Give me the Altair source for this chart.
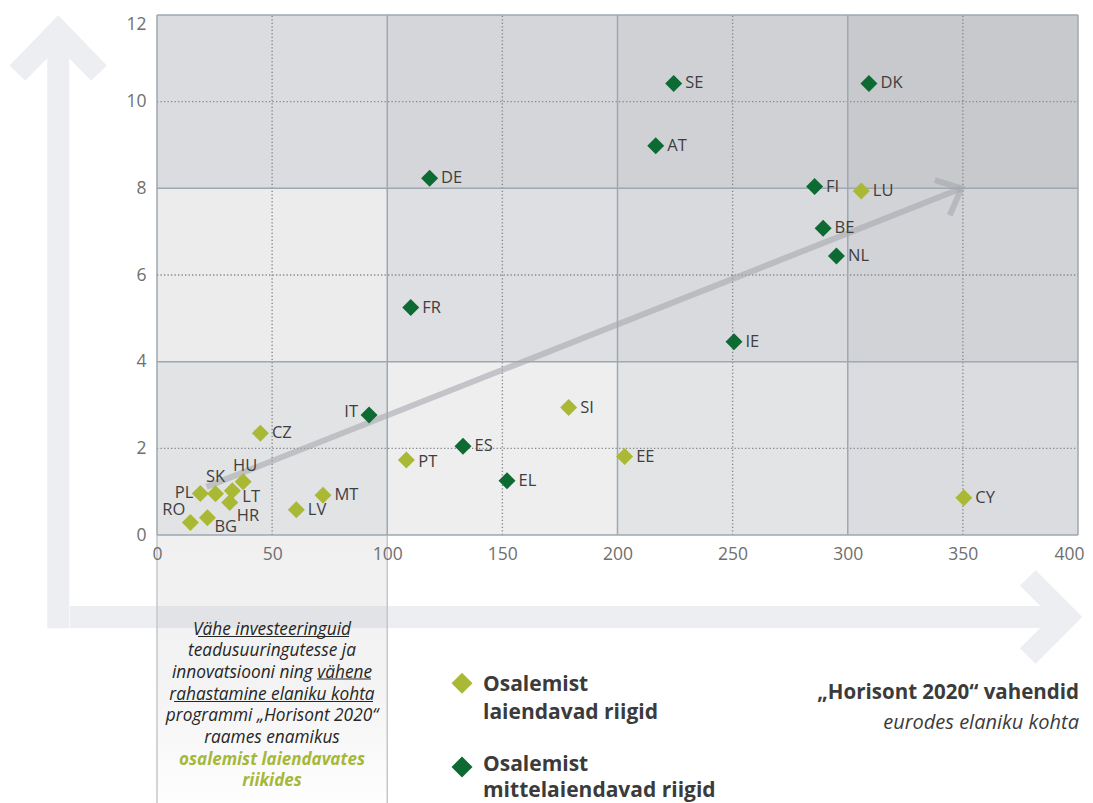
import altair as alt
import pandas as pd

FONT = "Open Sans"

# ---------------- data ----------------
light_countries = ["CZ", "HU", "SK", "PL", "LT", "HR", "RO", "BG", "LV", "MT", "PT", "SI", "EE", "CY", "LU"]
light_x = [44.9, 37.4, 25.4, 18.8, 32.7, 31.6, 14.5, 21.9, 60.5, 72.1, 108.3, 178.8, 203.1, 350.4, 305.9]
light_y = [2.35, 1.23, 0.95, 0.96, 1.02, 0.75, 0.29, 0.40, 0.58, 0.92, 1.73, 2.94, 1.81, 0.86, 7.94]

dark_countries = ["IT", "ES", "EL", "FR", "DE", "SE", "DK", "AT", "FI", "BE", "NL", "IE"]
dark_x = [92.1, 132.9, 152.0, 110.2, 118.4, 224.4, 309.2, 216.6, 285.6, 289.3, 295.1, 250.6]
dark_y = [2.77, 2.05, 1.25, 5.25, 8.23, 10.42, 10.42, 8.98, 8.04, 7.08, 6.44, 4.46]

groups = ["Osalemist laiendavad riigid", "Osalemist mittelaiendavad riigid"]
group_colors = ["#aab935", "#0d6a33"]

x_ticks = [0, 50, 100, 150, 200, 250, 300, 350, 400]
y_ticks = [0, 2, 4, 6, 8, 10, 12]

# quadrant cells
x_edges = [0, 100, 200, 300, 400]
y_edges = [0, 4, 8, 12]
cell_shades = [
    ["#e2e3e5", "#eeeeef", "#e3e4e6", "#dbdcdf"],  # 0-4
    ["#ececed", "#dedfe2", "#d9dadd", "#d2d3d7"],  # 4-8
    ["#dbdcdf", "#d5d6da", "#d0d1d5", "#c8c9cd"],  # 8-12
]

# trend arrow (data units)
trend_x = [21.5, 349.4]
trend_y = [1.11, 8.0]
head_x = [337.8, 349.4, 344.3]
head_y = [8.19, 8.0, 7.38]

annotation_lines = [
    "Vähe investeeringuid",
    "teadusuuringutesse ja",
    "innovatsiooni ning vähene",
    "rahastamine elaniku kohta",
    "programmi „Horisont 2020“",
    "raames enamikus",
]
annotation_green = ["osalemist laiendavates", "riikides"]

axis_title_1 = "„Horisont 2020“ vahendid"
axis_title_2 = "eurodes elaniku kohta"

# label placement: country -> (dx, dy, align)
label_place = {
    "IT": (-11, -3, "right"),
    "PL": (-7, 0, "right"),
    "SK": (0, -17, "center"),
    "HU": (2, -16, "center"),
    "LT": (10, 6, "left"),
    "HR": (7, 13, "left"),
    "RO": (-5, -12, "right"),
    "BG": (7, 9, "left"),
    "PT": (12, 2, "left"),
}
default_place = (11.5, 0, "left")

# ---------------- frames ----------------
pts = pd.DataFrame({
    "country": light_countries + dark_countries,
    "x": light_x + dark_x,
    "y": light_y + dark_y,
    "group": [groups[0]] * len(light_countries) + [groups[1]] * len(dark_countries),
})

cells = []
for r in range(len(y_edges) - 1):
    for c in range(len(x_edges) - 1):
        cells.append({"x0": x_edges[c], "x1": x_edges[c + 1],
                      "y0": y_edges[r], "y1": y_edges[r + 1], "fill": cell_shades[r][c]})
cells = pd.DataFrame(cells)

xs = alt.Scale(domain=[0, 400], nice=False, zero=False)
ys = alt.Scale(domain=[0, 12], nice=False, zero=False)
xaxis = alt.Axis(values=x_ticks, grid=False, domain=False, ticks=False, tickSize=0,
                 labelPadding=10, labelFlush=False, labelFont=FONT, labelFontSize=17.5,
                 labelAlign={"condition": {"test": "datum.value == 400", "value": "right"},
                             "value": "center"},
                 labelOffset={"condition": {"test": "datum.value == 400", "value": 6},
                              "value": 0},
                 labelColor="#6f6f6f", title=None, zindex=1)
yaxis = alt.Axis(values=y_ticks, grid=False, domain=False, ticks=False, tickSize=0,
                 labelPadding=11, labelFont=FONT, labelFontSize=17.5,
                 labelBaseline={"condition": {"test": "datum.value == 12", "value": "top"},
                                "value": "middle"},
                 labelColor="#6f6f6f", title=None, zindex=1)


def X(f):
    return alt.X(f, type="quantitative", scale=xs, axis=xaxis)


def Y(f):
    return alt.Y(f, type="quantitative", scale=ys, axis=yaxis)


layers = []

# quadrant cells
layers.append(alt.Chart(cells).mark_rect().encode(
    x=X("x0"), x2=alt.X2("x1"), y=Y("y0"), y2=alt.Y2("y1"),
    color=alt.Color("fill:N", scale=None)))

# annotation box under the low-low cell
box = pd.DataFrame({"x0": [0], "x1": [100], "y0": [-6.8], "y1": [0]})
layers.append(alt.Chart(box).mark_rect(
    color=alt.LinearGradient(gradient="linear", x1=0, x2=0, y1=0, y2=1,
                             stops=[alt.GradientStop(color="#f0f0f0", offset=0),
                                    alt.GradientStop(color="#f3f3f3", offset=0.5),
                                    alt.GradientStop(color="#ffffff", offset=0.95),
                                    alt.GradientStop(color="#f6f6f6", offset=1)])
).encode(x=X("x0"), x2=alt.X2("x1"), y=Y("y0"), y2=alt.Y2("y1")))

# big background L-arrows (decoration)
band = pd.DataFrame([
    {"seg": "v", "ord": 0, "x": -42.9, "y": -2.15},
    {"seg": "v", "ord": 1, "x": -42.9, "y": 11.42},
    {"seg": "vh", "ord": 0, "x": -60.6, "y": 10.66},
    {"seg": "vh", "ord": 1, "x": -42.9, "y": 11.63},
    {"seg": "vh", "ord": 2, "x": -25.2, "y": 10.66},
    {"seg": "h", "ord": 0, "x": -37.9, "y": -1.89},
    {"seg": "h", "ord": 1, "x": 392.1, "y": -1.89},
    {"seg": "hh", "ord": 0, "x": 378.2, "y": -0.99},
    {"seg": "hh", "ord": 1, "x": 395.1, "y": -1.89},
    {"seg": "hh", "ord": 2, "x": 378.2, "y": -2.79},
])
layers.append(alt.Chart(band).mark_line(
    color="#eceef1", strokeWidth=22, strokeJoin="miter", strokeCap="butt"
).encode(x=X("x"), y=Y("y"), detail="seg:N", order="ord:Q"))
band_box = pd.DataFrame({"x": [0, 100], "y": [-1.89, -1.89]})
layers.append(alt.Chart(band_box).mark_line(
    color="#e1e3e6", strokeWidth=22, strokeCap="butt"
).encode(x=X("x"), y=Y("y")))

# box side borders
box_edges = pd.DataFrame({"x": [0, 100], "y0": [-6.8, -6.8], "y1": [0, 0]})
layers.append(alt.Chart(box_edges).mark_rule(color="#c3c8cd", strokeWidth=1.5).encode(
    x=X("x"), y=Y("y0"), y2=alt.Y2("y1")))

# dotted grid
vgrid = pd.DataFrame({"x": [t for t in x_ticks if t not in x_edges], "y0": 0, "y1": 12})
hgrid = pd.DataFrame({"y": [t for t in y_ticks if t not in y_edges], "x0": 0, "x1": 400})
layers.append(alt.Chart(vgrid).mark_rule(color="#85878a", strokeWidth=1.4, strokeDash=[1.3, 2.2]).encode(
    x=X("x"), y=Y("y0"), y2=alt.Y2("y1")))
layers.append(alt.Chart(hgrid).mark_rule(color="#85878a", strokeWidth=1.4, strokeDash=[1.3, 2.2]).encode(
    y=Y("y"), x=X("x0"), x2=alt.X2("x1")))

# solid cell borders
vb = pd.DataFrame({"x": x_edges, "y0": 0, "y1": 12})
hb = pd.DataFrame({"y": y_edges, "x0": 0, "x1": 400})
layers.append(alt.Chart(vb).mark_rule(color="#9ea8b0", strokeWidth=1.5).encode(
    x=X("x"), y=Y("y0"), y2=alt.Y2("y1")))
layers.append(alt.Chart(hb).mark_rule(color="#9ea8b0", strokeWidth=1.5).encode(
    y=Y("y"), x=X("x0"), x2=alt.X2("x1")))

# trend arrow
trend = pd.DataFrame({"seg": ["s"] * 2 + ["h"] * 3, "ord": [0, 1, 0, 1, 2],
                      "x": trend_x + head_x, "y": trend_y + head_y})
layers.append(alt.Chart(trend).mark_line(
    color="#a7a9ad", opacity=0.6, strokeWidth=6, strokeJoin="miter", strokeCap="butt"
).encode(x=X("x"), y=Y("y"), detail="seg:N", order="ord:Q"))

# points
layers.append(alt.Chart(pts).mark_point(shape="diamond", filled=True, size=289, opacity=1).encode(
    x=X("x"), y=Y("y"),
    color=alt.Color("group:N", scale=alt.Scale(domain=groups, range=group_colors), legend=None)))

# labels
placements = {}
for c in pts["country"]:
    placements.setdefault(label_place.get(c, default_place), []).append(c)
for (dx, dy, align), members in placements.items():
    layers.append(alt.Chart(pts).transform_filter(
        alt.FieldOneOfPredicate(field="country", oneOf=members)
    ).mark_text(font=FONT, fontSize=16.5, color="#3f3f3f", dx=dx, dy=dy, align=align,
                baseline="middle").encode(x=X("x"), y=Y("y"), text="country:N"))

# annotation text in the box (pixel positions relative to plot origin)
one = pd.DataFrame({"k": [0]})
ANN_X = 115
ann_y0 = 614.5
ann_step = 21.7
for i, line in enumerate(annotation_lines):
    layers.append(alt.Chart(pd.DataFrame({"t": [line]})).mark_text(
        font=FONT, fontSize=17.3, fontStyle="italic", color="#262626", align="center", baseline="middle"
    ).encode(x=alt.value(ANN_X), y=alt.value(ann_y0 + ann_step * i), text="t:N"))
for j, line in enumerate(annotation_green):
    i = len(annotation_lines) + j
    layers.append(alt.Chart(pd.DataFrame({"t": [line]})).mark_text(
        font=FONT, fontSize=17, fontStyle="italic", fontWeight="bold", color="#a5b83a",
        align="center", baseline="middle"
    ).encode(x=alt.value(ANN_X), y=alt.value(ann_y0 + ann_step * i), text="t:N"))

# underlines
underlines = [(41, 192, 621.5), (160, 214, 664), (17, 216, 686.5)]
for (u0, u1, uy) in underlines:
    layers.append(alt.Chart(one).mark_rule(color="#262626", strokeWidth=1.2).encode(
        x=alt.value(u0), x2=alt.value(u1), y=alt.value(uy)))

# legend (manual)
leg_sym = [(305, 668.3, group_colors[0]), (305, 752, group_colors[1])]
for (lx, ly, col) in leg_sym:
    layers.append(alt.Chart(one).mark_point(shape="diamond", filled=True, size=441, color=col, opacity=1).encode(
        x=alt.value(lx), y=alt.value(ly)))
leg_text = [("Osalemist", 670), ("laiendavad  riigid", 698.3), ("Osalemist", 749.5), ("mittelaiendavad  riigid", 775.5)]
for (t, ty) in leg_text:
    layers.append(alt.Chart(pd.DataFrame({"t": [t]})).mark_text(
        font=FONT, fontSize=21, fontWeight="bold", color="#3b3b3b", align="left", baseline="middle"
    ).encode(x=alt.value(326), y=alt.value(ty), text="t:N"))

# axis title (manual, bottom right)
layers.append(alt.Chart(pd.DataFrame({"t": [axis_title_1]})).mark_text(
    font=FONT, fontSize=20.5, fontWeight="bold", color="#3b3b3b", align="right", baseline="alphabetic"
).encode(x=alt.value(922), y=alt.value(684), text="t:N"))
layers.append(alt.Chart(pd.DataFrame({"t": [axis_title_2]})).mark_text(
    font=FONT, fontSize=20, fontStyle="italic", color="#3b3b3b", align="right", baseline="alphabetic"
).encode(x=alt.value(922), y=alt.value(714), text="t:N"))

chart = alt.layer(*layers).properties(
    width=921, height=520,
    padding={"left": 149, "top": 7, "right": 7, "bottom": 268},
    autosize=alt.AutoSizeParams(type="none"),
    background="white",
).configure_view(stroke=None)

chart.save("out.html", embed_options={"renderer": "svg", "actions": False})
